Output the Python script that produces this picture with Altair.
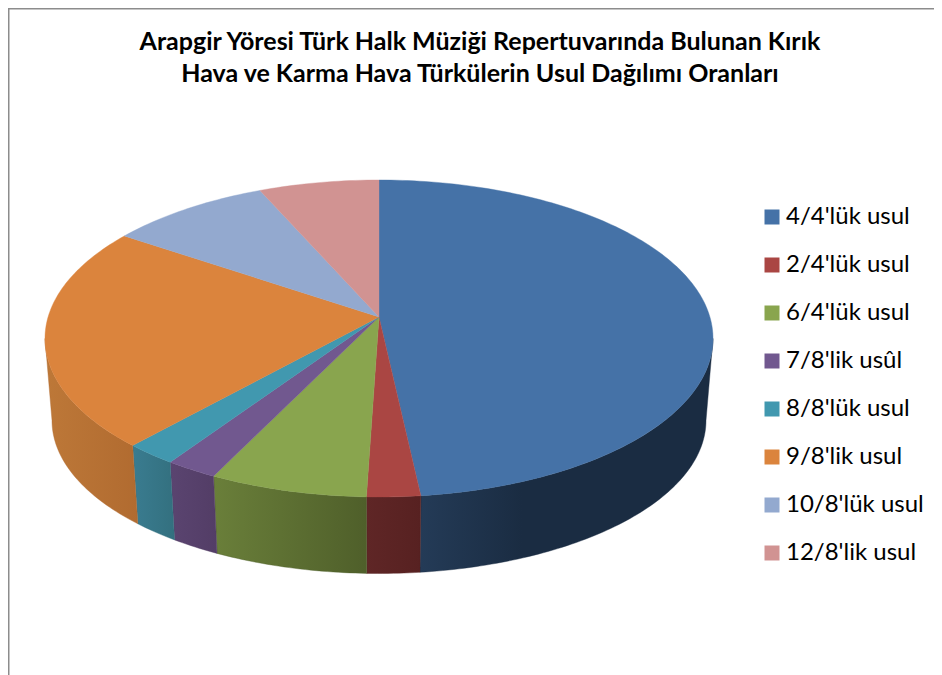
import math
import altair as alt

chart_title = ["Arapgir Yöresi Türk Halk Müziği Repertuvarında Bulunan Kırık",
               "Hava ve Karma Hava Türkülerin Usul Dağılımı Oranları"]
categories = ["4/4'lük usul", "2/4'lük usul", "6/4'lük usul", "7/8'lik usûl",
              "8/8'lük usul", "9/8'lik usul", "10/8'lük usul", "12/8'lik usul"]
shares = [48.0, 2.6, 7.65, 2.5, 2.45, 23.0, 8.0, 5.8]
top_colors = ["#4572A7", "#AA4643", "#89A54E", "#71588F", "#4198AF", "#DB843D", "#93A9CF", "#D19392"]
side_left = ["#243B57", "#5F2626", "#6A7F3A", "#5A4470", "#3A7C90", "#BD7838", "#6E7F9B", "#9C6E6D"]
side_right = ["#1A2C42", "#572121", "#4F5F2A", "#533D66", "#33707F", "#B16B30", "#6E7F9B", "#9C6E6D"]
side_stop = [0.35, 1, 1, 1, 1, 1, 1, 1]

# Layout of the tilted pie, in plot-area pixels
W, H = 926, 667
CX, CY = 371, 330.5    # top ellipse centre
RX, RY = 334, 158.5    # top ellipse radii
APEX_DY = 21.5         # the apex sits above the ellipse centre (perspective)
BRX, BRY, BDY = 327, 153, 82  # bottom ellipse radii and drop


def rim(deg, rx=RX, ry=RY, dy=0):
    a = math.radians(deg)
    return [rx * math.sin(a) / RX, (-dy + ry * math.cos(a)) / RX]


def arc(a0, a1, **kw):
    n = max(2, int(abs(a1 - a0)) + 2)
    return [rim(a0 + (a1 - a0) * i / (n - 1), **kw) for i in range(n)]


def feature(name, points):
    ring = points + [points[0]]
    return {"type": "Feature", "properties": {"name": name},
            "geometry": {"type": "Polygon", "coordinates": [ring]}}


bounds = [0.0]
for s in shares:
    bounds.append(bounds[-1] + s * 3.6)

projection = dict(type="identity", reflectY=True, scale=RX, translate=[CX, CY])

layers = []
# Side walls first: only the part of the rim facing the viewer
for i, name in enumerate(categories):
    a0, a1 = max(bounds[i], 90), min(bounds[i + 1], 270)
    if a1 <= a0:
        continue
    pts = arc(a0, a1) + arc(a1, a0, rx=BRX, ry=BRY, dy=BDY)
    grad = alt.Gradient(gradient="linear", x1=0, x2=1, y1=0, y2=0,
                        stops=[alt.GradientStop(color=side_left[i], offset=0),
                               alt.GradientStop(color=side_right[i], offset=side_stop[i]),
                               alt.GradientStop(color=side_right[i], offset=1)])
    layers.append(
        alt.Chart(alt.InlineData(values={"type": "FeatureCollection", "features": [feature(name, pts)]},
                                 format=alt.DataFormat(property="features", type="json")))
        .mark_geoshape(fill=grad, stroke=side_right[i], strokeWidth=0.4)
        .project(**projection)
    )

# Top face
apex = [0, APEX_DY / RX]
top = [feature(n, [apex] + arc(bounds[i], bounds[i + 1])) for i, n in enumerate(categories)]
layers.append(
    alt.Chart(alt.InlineData(values={"type": "FeatureCollection", "features": top},
                             format=alt.DataFormat(property="features", type="json")))
    .mark_geoshape(strokeWidth=0.4)
    .encode(
        fill=alt.Color(
            "properties.name:N",
            scale=alt.Scale(domain=categories, range=top_colors),
            legend=alt.Legend(
                title=None, orient="none", legendX=752, legendY=197,
                symbolType="square", symbolSize=225, symbolStrokeWidth=0,
                labelFont="Lato", labelFontSize=24, labelColor="#000000",
                labelOffset=2, rowPadding=24, labelLimit=200, columns=1,
            ),
        ),
        stroke=alt.Color("properties.name:N", scale=alt.Scale(domain=categories, range=top_colors), legend=None),
    )
    .project(**projection)
)

# Chart frame
layers.append(alt.Chart(alt.Data(values=[{"f": "left"}])).mark_rule(color="#8c8c8c", strokeWidth=2).encode(
    x=alt.value(0.5), y=alt.value(0), y2=alt.value(H)))
layers.append(alt.Chart(alt.Data(values=[{"f": "top"}])).mark_rule(color="#8c8c8c", strokeWidth=2).encode(
    y=alt.value(0.5), x=alt.value(0), x2=alt.value(W)))

chart = alt.layer(*layers).properties(
    width=W, height=H, padding=0,
    autosize=alt.AutoSizeParams(type="none"),
    title=alt.TitleParams(text=chart_title, font="Lato", fontSize=25, fontWeight="bold", color="#000000",
                          anchor="middle", align="center", baseline="alphabetic", lineHeight=32, dx=9, dy=100, offset=0),
).configure_view(stroke=None)

chart.save("out.html", embed_options={"renderer": "svg", "actions": False})
